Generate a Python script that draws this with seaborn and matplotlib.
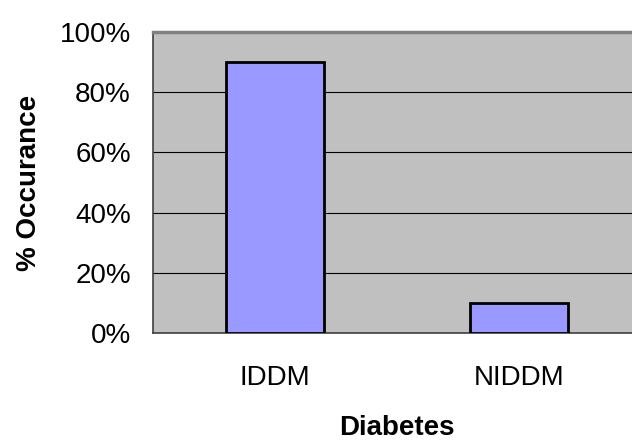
import matplotlib
matplotlib.use("Agg")
import matplotlib.pyplot as plt
import seaborn as sns
import pandas as pd
from matplotlib.ticker import PercentFormatter

categories = ["IDDM", "NIDDM"]
values = [90, 10]
yticks = [0, 20, 40, 60, 80, 100]

sns.set_style("white")
plt.rcParams['font.family'] = ['Liberation Sans', 'DejaVu Sans']
plt.rcParams['text.color'] = 'black'
plt.rcParams['xtick.color'] = 'black'
plt.rcParams['ytick.color'] = 'black'
plt.rcParams['axes.labelcolor'] = 'black'

df = pd.DataFrame({"Diabetes": categories, "Occurance": values})

fig = plt.figure(figsize=(6.32, 4.43), dpi=100)
W = 641 - 153
H = 301
ax = fig.add_axes([153/632, (443-333)/443, W/632, H/443])
ax.set_facecolor("#C0C0C0")

sns.barplot(data=df, x="Diabetes", y="Occurance", color="#9999FF",
            edgecolor="black", linewidth=2, width=0.4, saturation=1, ax=ax, zorder=3)

ax.set_xlim(-0.5, 1.5)
ax.set_ylim(0, 100)
ax.set_yticks(yticks)
ax.yaxis.set_major_formatter(PercentFormatter(decimals=0))
ax.set_xticks([-0.5, 0.5], minor=False)
ax.set_xticks([0, 1], minor=True)
ax.set_xticklabels(["", ""])
ax.set_xticklabels(categories, minor=True)
ax.tick_params(axis="x", which="minor", length=0, labelsize=20, pad=23)
ax.tick_params(axis="x", which="major", length=7, width=1, direction="out")
ax.tick_params(axis="y", length=7, width=1, direction="out", labelsize=20, pad=9)
ax.grid(axis="y", color="black", linewidth=0.8, zorder=0)
ax.set_axisbelow(True)

for s in ["left", "bottom"]:
    ax.spines[s].set_color("#404040")
    ax.spines[s].set_linewidth(1.2)
ax.spines["top"].set_color("#808080")
ax.spines["top"].set_linewidth(2.5)
ax.spines["right"].set_visible(False)

ax.set_xlabel("Diabetes", fontsize=20, fontweight="bold")
ax.set_ylabel("% Occurance", fontsize=20, fontweight="bold")
ax.xaxis.set_label_coords(0.5, (333-415)/H)
ax.yaxis.set_label_coords((42-153)/W, 0.5)

fig.savefig("out.png", dpi=100)
